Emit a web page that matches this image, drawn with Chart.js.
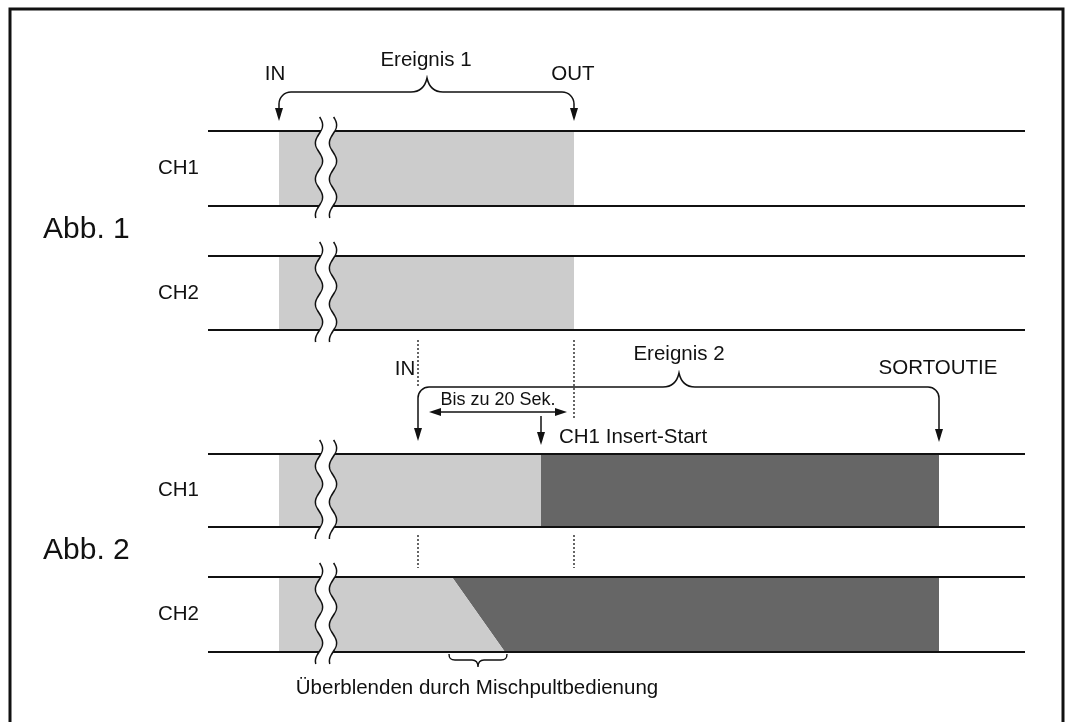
<!DOCTYPE html>
<html>
<head>
<meta charset="utf-8">
<script src="https://cdn.jsdelivr.net/npm/chart.js@4.4.1/dist/chart.umd.min.js"></script>
<style>
  html, body { margin: 0; padding: 0; background: #ffffff; }
  #wrap { width: 1066px; height: 722px; }
</style>
</head>
<body>
<div id="wrap"><canvas id="c" width="1066" height="722"></canvas></div>
<script>
// ---- diagram data (time on x, lane levels on y) ----
const laneLabels   = ['CH1', 'CH2', 'CH1', 'CH2'];
const laneTop      = [131, 256, 454, 577];
const laneBottom   = [206, 330, 527, 652];
const figureLabels = ['Abb. 1', 'Abb. 2'];
const trackSpan    = [208, 1025];          // start / end of the time axis tracks
const oldStart     = 279;                  // start of material before break
const breakCenters = [319, 333];           // the two wavy break lines
const event1Span   = [279, 574];           // Ereignis 1: IN, OUT
const event2Span   = [418, 939];           // Ereignis 2: IN, SORTOUTIE
const insertStart  = 541;                  // CH1 Insert-Start
const crossfadeTop = 452;                  // CH2 crossfade begins (top)
const crossfadeBot = 505;                  // CH2 crossfade ends (bottom)
const markerTimes  = [418, 574];           // dotted markers
const windowSpan   = [429, 567];           // "Bis zu 20 Sek."

const LIGHT = '#cccccc', DARK = '#666666', INK = '#111111';
const FONT = '"Liberation Sans", Arial, Helvetica, sans-serif';

function rect(x0, x1, y0, y1) {
  return [{x:x0,y:y0},{x:x1,y:y0},{x:x1,y:y1},{x:x0,y:y1},{x:x0,y:y0}];
}

const datasets = [];
// lane edges (drawn on top)
laneTop.forEach((t, i) => {
  [t, laneBottom[i]].forEach(y => datasets.push({
    type: 'line', data: [{x:trackSpan[0], y}, {x:trackSpan[1], y}],
    borderColor: INK, borderWidth: 2, pointRadius: 0, fill: false, order: 0
  }));
});
// dotted markers
markerTimes.forEach((t, i) => {
  datasets.push({ type:'line', data:[{x:t,y:340},{x:t,y: i===0 ? 388 : 420}],
    borderColor: '#000000', borderWidth: 1.2, borderDash:[2,2], pointRadius:0, fill:false, order:0 });
  datasets.push({ type:'line', data:[{x:t,y:535},{x:t,y:568}],
    borderColor: '#000000', borderWidth: 1.2, borderDash:[2,2], pointRadius:0, fill:false, order:0 });
});
// fills
function fillSet(pts, color) {
  datasets.push({ type:'line', data: pts, borderWidth: 0, borderColor: 'rgba(0,0,0,0)',
    backgroundColor: color, pointRadius: 0, fill: 'shape', order: 1 });
}
// Abb. 1
fillSet(rect(oldStart, event1Span[1], laneTop[0], laneBottom[0]), LIGHT);
fillSet(rect(oldStart, event1Span[1], laneTop[1], laneBottom[1]), LIGHT);
// Abb. 2 CH1
fillSet(rect(oldStart, insertStart, laneTop[2], laneBottom[2]), LIGHT);
fillSet(rect(insertStart, event2Span[1], laneTop[2], laneBottom[2]), DARK);
// Abb. 2 CH2
fillSet([{x:oldStart,y:laneTop[3]},{x:crossfadeTop,y:laneTop[3]},{x:crossfadeBot,y:laneBottom[3]},{x:oldStart,y:laneBottom[3]},{x:oldStart,y:laneTop[3]}], LIGHT);
fillSet([{x:crossfadeTop,y:laneTop[3]},{x:event2Span[1],y:laneTop[3]},{x:event2Span[1],y:laneBottom[3]},{x:crossfadeBot,y:laneBottom[3]},{x:crossfadeTop,y:laneTop[3]}], DARK);

const diagram = {
  id: 'diagram',
  beforeDraw(chart) {
    const ctx = chart.ctx;
    ctx.save(); ctx.fillStyle = '#ffffff'; ctx.fillRect(0, 0, chart.width, chart.height); ctx.restore();
  },
  afterDatasetsDraw(chart) {
    const ctx = chart.ctx;
    const X = v => chart.scales.x.getPixelForValue(v);
    const Y = v => chart.scales.y.getPixelForValue(v);
    ctx.save();

    // wavy break marks
    const A = 3.6, P = 36, ph = 0.175;
    laneTop.forEach((t, i) => {
      const y0 = t - 14, y1 = laneBottom[i] + 12;
      const wave = (cx, y) => X(cx) + A * Math.sin(2 * Math.PI * (y - y0) / P + ph);
      ctx.beginPath();
      for (let y = y0; y <= y1; y += 0.5) { const px = wave(breakCenters[0], y); y === y0 ? ctx.moveTo(px, Y(y)) : ctx.lineTo(px, Y(y)); }
      for (let y = y1; y >= y0; y -= 0.5) ctx.lineTo(wave(breakCenters[1], y), Y(y));
      ctx.closePath(); ctx.fillStyle = '#ffffff'; ctx.fill();
      ctx.strokeStyle = INK; ctx.lineWidth = 1.5;
      breakCenters.forEach(c => {
        ctx.beginPath();
        for (let y = y0; y <= y1; y += 0.5) { const px = wave(c, y); y === y0 ? ctx.moveTo(px, Y(y)) : ctx.lineTo(px, Y(y)); }
        ctx.stroke();
      });
    });

    ctx.strokeStyle = INK; ctx.fillStyle = INK; ctx.lineWidth = 1.5;
    function headDown(x, tip) {
      ctx.beginPath(); ctx.moveTo(X(x), Y(tip)); ctx.lineTo(X(x) - 4, Y(tip) - 13); ctx.lineTo(X(x) + 4, Y(tip) - 13); ctx.closePath(); ctx.fill();
    }
    function headSide(x, y, dir) {
      ctx.beginPath(); ctx.moveTo(X(x), Y(y)); ctx.lineTo(X(x) - dir * 12, Y(y) - 4); ctx.lineTo(X(x) - dir * 12, Y(y) + 4); ctx.closePath(); ctx.fill();
    }
    function brace(xl, xr, yh, cx, yc, r, tipL, tipR) {
      ctx.beginPath();
      ctx.moveTo(X(xl), Y(tipL) - 12);
      ctx.lineTo(X(xl), Y(yh) + r);
      ctx.arcTo(X(xl), Y(yh), X(xl) + r, Y(yh), r);
      ctx.lineTo(X(cx) - 16, Y(yh));
      ctx.bezierCurveTo(X(cx) - 7, Y(yh), X(cx) - 2, Y(yh) - 5, X(cx), Y(yc));
      ctx.bezierCurveTo(X(cx) + 2, Y(yh) - 5, X(cx) + 7, Y(yh), X(cx) + 16, Y(yh));
      ctx.lineTo(X(xr) - r, Y(yh));
      ctx.arcTo(X(xr), Y(yh), X(xr), Y(yh) + r, r);
      ctx.lineTo(X(xr), Y(tipR) - 12);
      ctx.stroke();
      headDown(xl, tipL); headDown(xr, tipR);
    }
    // Ereignis 1 bracket
    brace(event1Span[0], event1Span[1], 92, 427, 78, 12, 121, 121);
    // Ereignis 2 bracket
    brace(event2Span[0], event2Span[1], 387, 679, 373, 11, 441, 442);

    // Bis zu 20 Sek. double arrow
    ctx.beginPath(); ctx.moveTo(X(windowSpan[0]) + 8, Y(412)); ctx.lineTo(X(windowSpan[1]) - 8, Y(412)); ctx.stroke();
    headSide(windowSpan[0], 412, -1); headSide(windowSpan[1], 412, 1);
    // Insert start arrow
    ctx.beginPath(); ctx.moveTo(X(insertStart), Y(416)); ctx.lineTo(X(insertStart), Y(434)); ctx.stroke();
    headDown(insertStart, 445);

    // crossfade brace (under CH2)
    ctx.lineWidth = 1.4;
    const b0 = X(crossfadeTop - 3), b1 = X(crossfadeBot + 2), bm = (b0 + b1) / 2, yb = Y(660);
    ctx.beginPath();
    ctx.moveTo(b0, Y(654));
    ctx.bezierCurveTo(b0, yb - 1, b0 + 2, yb, b0 + 6, yb);
    ctx.lineTo(bm - 6, yb);
    ctx.bezierCurveTo(bm - 2, yb, bm, yb + 2, bm, Y(667));
    ctx.bezierCurveTo(bm, yb + 2, bm + 2, yb, bm + 6, yb);
    ctx.lineTo(b1 - 6, yb);
    ctx.bezierCurveTo(b1 - 2, yb, b1, yb - 1, b1, Y(654));
    ctx.stroke();

    // texts
    ctx.fillStyle = INK; ctx.textBaseline = 'middle';
    function text(s, x, y, size, align) {
      ctx.font = size + 'px ' + FONT; ctx.textAlign = align || 'center'; ctx.fillText(s, X(x), Y(y));
    }
    const S = 20.5;
    text('IN', 275, 74, S);
    text('Ereignis 1', 426, 60, S);
    text('OUT', 573, 74, S);
    text('IN', 405, 369, S);
    text('Ereignis 2', 679, 354, S);
    text('SORTOUTIE', 938, 368, S);
    text('Bis zu 20 Sek.', 498, 400, 18);
    text('CH1 Insert-Start', 559, 437, S, 'left');
    text('Überblenden durch Mischpultbedienung', 477, 688, S);
    laneLabels.forEach((l, i) => text(l, 158, (laneTop[i] + laneBottom[i]) / 2, S, 'left'));
    text(figureLabels[0], 43, 230, 30, 'left');
    text(figureLabels[1], 43, 551, 30, 'left');

    // frame
    ctx.strokeStyle = '#111111'; ctx.lineWidth = 3;
    ctx.strokeRect(X(10), Y(9), X(1063) - X(10), Y(740) - Y(9));
    ctx.restore();
  }
};

new Chart(document.getElementById('c'), {
  type: 'scatter',
  data: { datasets },
  options: {
    responsive: false,
    animation: false,
    devicePixelRatio: 1,
    layout: { padding: 0 },
    plugins: { legend: { display: false }, tooltip: { enabled: false }, title: { display: false } },
    elements: { line: { tension: 0 } },
    scales: {
      x: { type: 'linear', min: 0, max: 1066, display: false },
      y: { type: 'linear', min: 0, max: 722, reverse: true, display: false }
    }
  },
  plugins: [diagram]
});
</script>
</body>
</html>
